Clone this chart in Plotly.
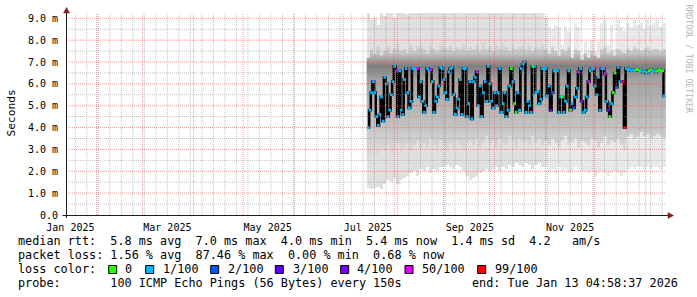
import plotly.graph_objects as go
from datetime import datetime, timedelta

# ---------------- data ----------------
first_day = datetime(2025, 7, 16, 6, 0)          # first daily median point
x_range = ["2025-01-13 08:00", "2026-01-13 08:00"]
y_max_ms = 9.242

# daily median rtt (ms)
median_ms = [
    4.0, 4.8, 5.6, 6.1, 5.6, 4.5, 4.1, 4.6, 5.4, 4.3,
    6.3, 6.0, 4.5, 4.8, 5.5, 6.1, 6.8, 6.6, 4.5, 6.6,
    4.8, 4.6, 6.2, 6.7, 5.6, 4.9, 5.2, 6.7, 6.7, 6.7,
    6.7, 5.4, 6.1, 5.2, 4.7, 5.0, 6.7, 6.6, 6.65, 6.1,
    4.7, 5.2, 5.4, 5.9, 6.75, 6.7, 6.2, 5.6, 5.3, 6.55,
    6.7, 6.75, 5.5, 4.6, 4.9, 5.3, 6.2, 4.6, 6.7, 6.7,
    4.5, 5.1, 6.1, 4.4, 6.1, 6.3, 6.55, 5.0, 5.9, 4.5,
    5.6, 6.1, 5.2, 6.8, 6.0, 5.2, 4.9, 5.6, 5.0, 5.6,
    6.7, 4.7, 5.1, 5.6, 4.5, 4.8, 5.9, 6.7, 6.1, 5.1,
    4.7, 5.6, 4.8, 6.7, 6.9, 7.0, 4.7, 5.2, 5.0, 4.7,
    6.8, 6.8, 5.6, 5.65, 5.1, 5.3, 6.7, 6.7, 6.7, 5.45,
    5.9, 4.8, 5.6, 6.6, 6.6, 6.6, 4.7, 5.4, 5.4, 4.7,
    5.2, 5.9, 6.6, 4.8, 5.1, 4.9, 5.4, 5.8, 6.55, 6.7,
    5.2, 4.7, 4.8, 5.4, 6.1, 6.6, 6.7, 6.7, 5.9, 5.5,
    6.3, 4.8, 6.7, 6.7, 6.45, 5.2, 4.8, 4.5, 5.1, 5.6,
    6.5, 5.85, 6.75, 6.1, 6.1, 6.1, 4.0, 6.7, 6.65, 6.65,
    6.6, 6.65, 6.6, 6.65, 6.65, 6.6, 6.6, 6.55, 6.6, 6.5,
    6.55, 6.6, 6.65, 6.6, 6.6, 6.55, 6.6, 6.65, 6.6, 6.6,
    5.45,
]

# daily loss bucket (index into loss_labels)
loss_bucket = [
    1, 1, 1, 1, 1, 1, 1, 1, 1, 1,
    1, 1, 1, 1, 1, 1, 1, 5, 1, 1,
    1, 1, 1, 1, 1, 1, 1, 1, 1, 1,
    5, 1, 1, 1, 1, 1, 1, 1, 5, 1,
    1, 1, 1, 1, 1, 1, 1, 1, 1, 1,
    1, 1, 1, 1, 1, 1, 1, 1, 1, 1,
    1, 1, 1, 1, 1, 1, 5, 1, 1, 1,
    1, 1, 1, 1, 1, 1, 1, 1, 1, 1,
    1, 1, 1, 1, 1, 1, 1, 0, 1, 0,
    0, 1, 1, 1, 1, 1, 1, 1, 1, 1,
    0, 1, 1, 1, 1, 1, 1, 1, 1, 1,
    1, 3, 2, 1, 1, 1, 1, 1, 0, 1,
    1, 1, 1, 0, 1, 2, 1, 1, 5, 1,
    4, 1, 1, 1, 5, 1, 1, 1, 1, 1,
    1, 1, 1, 1, 5, 1, 3, 0, 1, 0,
    0, 2, 1, 1, 2, 6, 6, 1, 1, 1,
    1, 1, 1, 0, 0, 0, 1, 1, 1, 1,
    1, 0, 0, 1, 1, 1, 0, 0, 0, 0,
    1,
]

# smoke, one value per two days (ms)
smoke_bot = [
    1.25, 1.2, 1.25, 1.3, 1.2, 1.4,
    1.6, 1.5, 1.7, 1.4, 1.6, 1.7, 1.8,
    1.9, 2.0, 1.8, 2.1, 2.0, 2.2, 1.9, 2.1, 2.0, 2.2,
    2.2, 2.3, 2.2, 2.1, 2.3, 2.2, 2.0, 1.8, 1.6, 1.7, 1.8, 1.9, 2.0, 2.1, 2.0,
    2.1, 2.2, 2.0, 2.2, 2.1, 2.3, 2.2, 2.4, 2.3, 2.2, 2.4, 2.3, 2.1, 2.3, 2.4, 2.2,
    2.2, 2.0, 2.1, 1.9, 2.2, 2.0, 2.1, 1.9, 2.0, 2.2, 2.1, 2.0,
    2.0, 1.9, 2.0, 1.8, 1.9, 2.0, 1.9, 1.8, 1.9, 2.0, 1.9, 1.8, 1.9,
    2.1, 2.2, 2.1, 2.2, 2.2, 2.1, 2.2, 2.1, 2.2, 2.2, 2.1, 2.2,
]
smoke_top = [
    9.3, 8.9, 9.0, 8.7, 9.4, 9.1, 9.4, 9.4, 9.0, 9.4,
    9.4, 9.4, 9.2, 9.4, 9.4, 9.4, 9.4, 9.4, 9.4, 9.4,
    9.4, 9.4, 9.4, 9.3, 9.4, 9.4, 9.4, 9.4, 9.4, 9.4,
    9.4, 9.4, 9.4, 9.4, 9.4, 9.4, 9.4, 9.4, 9.4, 9.4,
    9.4, 9.4, 9.4, 9.4, 9.4, 9.4, 9.4, 9.4, 9.4, 9.4,
    9.4, 9.4, 9.4, 9.4,
    9.0, 8.6, 8.5, 8.7, 8.6, 7.8, 8.6, 8.4, 7.4, 8.8, 8.6, 7.3,
    7.9, 7.6, 8.0, 7.5, 7.9,
    8.8, 8.9, 7.8, 8.7, 7.6, 8.9, 8.6, 8.4,
    8.8, 8.6, 8.9, 8.7, 8.8, 8.5, 8.9, 8.7, 8.8, 8.9, 8.6, 8.8,
]
# edges of the darker inner smoke (ms), one value per two days
mid_lo = [
    2.6, 2.8, 3.0, 2.7, 3.1, 2.9, 3.2, 2.8, 3.0, 3.3, 2.9,
    3.1, 3.3, 2.9, 3.2, 3.4, 3.0, 3.3, 3.1, 3.5, 3.2, 3.0, 3.4, 3.2, 2.9, 3.3, 3.1, 3.4, 3.2, 3.0, 3.3,
    3.4, 3.2, 3.5, 3.1, 3.3, 3.6, 3.2, 3.4, 3.1, 3.5, 3.3, 3.2, 3.6, 3.4, 3.1, 3.5, 3.3, 3.4, 3.2, 3.6, 3.3, 3.5, 3.2,
    3.4, 3.2, 3.5, 3.3, 3.1, 3.4, 3.6, 3.2, 3.3, 3.5, 3.1, 3.4, 3.3, 3.2, 3.5, 3.4, 3.1, 3.3, 3.6, 3.2, 3.4, 3.3, 3.5, 3.2, 3.0,
    3.6, 3.7, 3.5, 3.6, 3.8, 3.6, 3.7, 3.5, 3.6, 3.7, 3.6, 3.5,
]
mid_hi = [
    7.2, 7.6, 7.4, 7.8, 7.3, 7.5, 7.7, 7.4, 7.6, 7.9, 7.5,
    7.6, 7.4, 7.8, 7.5, 7.7, 7.9, 7.6, 7.4, 7.8, 7.6, 7.5, 7.9, 7.7, 7.6, 7.8, 7.5, 7.7, 7.6, 7.9, 7.5,
    7.7, 7.6, 7.8, 7.5, 7.9, 7.6, 7.7, 7.5, 7.8, 7.6, 7.9, 7.7, 7.5, 7.8, 7.6, 7.7, 7.9, 7.6, 7.8, 7.5, 7.7, 7.6, 7.8,
    7.6, 7.4, 7.7, 7.5, 7.3, 7.6, 7.5, 7.7, 7.2, 7.6, 7.5, 7.1, 7.4, 7.2, 7.5, 7.3, 7.2, 7.6, 7.7, 7.4, 7.5, 7.3, 7.6, 7.5, 7.4,
    7.6, 7.5, 7.7, 7.6, 7.5, 7.6, 7.7, 7.5, 7.6, 7.6, 7.5, 7.6,
]

loss_labels = ["0", "1/100", "2/100", "3/100", "4/100", "50/100", "99/100"]
loss_colors = ["#26ff00", "#00b8ff", "#0059ff", "#5e00ff", "#7e00ff", "#dd00ff", "#ff0000"]

label_dates = ["2025-01-16", "2025-03-16", "2025-05-16", "2025-07-16", "2025-09-16", "2025-11-16"]
label_texts = ["Jan 2025", "Mar 2025", "May 2025", "Jul 2025", "Sep 2025", "Nov 2025"]
y_tick_vals = [0, 1, 2, 3, 4, 5, 6, 7, 8, 9]
y_tick_texts = ["0.0", "1.0 m", "2.0 m", "3.0 m", "4.0 m", "5.0 m", "6.0 m", "7.0 m", "8.0 m", "9.0 m"]

line_rtt = "median rtt:  5.8 ms avg  7.0 ms max  4.0 ms min  5.4 ms now  1.4 ms sd  4.2   am/s"
line_loss = "packet loss: 1.56 % avg  87.46 % max  0.00 % min  0.68 % now"
line_color = "loss color:"
line_probe = "probe:       100 ICMP Echo Pings (56 Bytes) every 150s"
line_end = "end: Tue Jan 13 04:58:37 2026"

assert len(median_ms) == len(loss_bucket) == 181
for arr in (smoke_bot, smoke_top, mid_lo, mid_hi):
    assert len(arr) == 91, len(arr)

# ---------------- style ----------------
PL, PT, PW, PH = 66, 13, 600, 202
W, H = 697, 297
MONO = "DejaVu Sans Mono"
SMOKE_GRAD = dict(start=2.4, stop=8.2, colorscale=[
    [0.000, "#dedede"], [0.172, "#d2d2d2"], [0.310, "#c0c0c0"], [0.483, "#b3b3b3"],
    [0.655, "#a2a2a2"], [0.759, "#7e7e7e"], [0.810, "#a0a0a0"], [0.862, "#c6c6c6"],
    [0.931, "#d9d9d9"], [1.000, "#e0e0e0"]])


def px(x):
    return (x - PL) / PW


def py(y):
    return (PT + PH - y) / PH


day_ms = 86400000
days = [first_day + timedelta(days=i) for i in range(len(median_ms))]
sdays = [first_day + timedelta(days=2 * k) for k in range(len(smoke_top))]

fig = go.Figure()

# outer (light) smoke
light_cols = ["#e0e0e0" if k < 54 else "#e9e9e9" for k in range(len(smoke_top))]
fig.add_trace(go.Bar(
    x=sdays, y=[h - l for l, h in zip(smoke_bot, smoke_top)], base=smoke_bot,
    width=2 * day_ms, marker=dict(color=light_cols, line=dict(width=0)),
    hoverinfo="skip", showlegend=False))

# inner smoke: stepped outline filled with a vertical grey gradient
ox, oy = [], []
for d, h in zip(sdays, mid_hi):
    ox += [d - timedelta(days=1), d + timedelta(days=1)]
    oy += [h, h]
for d, l in zip(reversed(sdays), reversed(mid_lo)):
    ox += [d + timedelta(days=1), d - timedelta(days=1)]
    oy += [l, l]
fig.add_trace(go.Scatter(
    x=ox, y=oy, mode="lines", fill="toself", line=dict(width=0, color="rgba(0,0,0,0)"),
    fillgradient=dict(type="vertical", **SMOKE_GRAD),
    hoverinfo="skip", showlegend=False))

fig.add_trace(go.Scatter(
    x=days, y=median_ms, mode="lines",
    line=dict(color="#000000", width=2.6, shape="hvh"),
    hoverinfo="skip", showlegend=False))
fig.add_trace(go.Scatter(
    x=days, y=median_ms, mode="markers",
    marker=dict(symbol="square", size=2.8, color=[loss_colors[b] for b in loss_bucket], line=dict(width=0)),
    hoverinfo="skip", showlegend=False))

# ---------------- grid (drawn on top like rrdtool) ----------------
shapes = []
GRID = "rgba(143,143,143,0.55)"
MGRID = "rgba(222,79,79,0.55)"
d = datetime(2025, 1, 19)
while d < datetime(2026, 1, 13):
    shapes.append(dict(type="line", xref="x", yref="paper", x0=d, x1=d, y0=0, y1=1,
                       line=dict(color=GRID, width=1, dash="1px,1px"), layer="above"))
    d += timedelta(days=7)
for m in range(2, 14):
    yy, mm = (2025, m) if m <= 12 else (2026, m - 12)
    d = datetime(yy, mm, 1)
    shapes.append(dict(type="line", xref="x", yref="paper", x0=d, x1=d, y0=0, y1=1,
                       line=dict(color=MGRID, width=1, dash="1px,1px"), layer="above"))
for v in range(1, 19):
    val = v * 0.5
    col = MGRID if v % 2 == 0 else GRID
    shapes.append(dict(type="line", xref="paper", yref="y", x0=0, x1=1, y0=val, y1=val,
                       line=dict(color=col, width=1, dash="1px,1px"), layer="above"))

AX = "#1f1f1f"
ARROW = "#801f1f"
shapes.append(dict(type="line", xref="paper", yref="paper", x0=px(66.5), x1=px(66.5), y0=py(218), y1=py(12.5),
                   line=dict(color=AX, width=1), layer="above"))
shapes.append(dict(type="line", xref="paper", yref="paper", x0=px(62.5), x1=px(669), y0=py(215.5), y1=py(215.5),
                   line=dict(color=AX, width=1), layer="above"))
shapes.append(dict(type="path", xref="paper", yref="paper",
                   path=f"M {px(63.5)},{py(13)} L {px(69.5)},{py(13)} L {px(66.5)},{py(7.5)} Z",
                   fillcolor=ARROW, line=dict(color=ARROW, width=0.5), layer="above"))
shapes.append(dict(type="path", xref="paper", yref="paper",
                   path=f"M {px(668)},{py(212.5)} L {px(668)},{py(218.5)} L {px(673.5)},{py(215.5)} Z",
                   fillcolor=ARROW, line=dict(color=ARROW, width=0.5), layer="above"))

# legend colour boxes
box_x = [108.7, 145.7, 210.7, 275.3, 340.7, 405.0, 477.7]
text_x = [123.3, 161.0, 225.7, 290.7, 355.0, 420.0, 492.7]
for bx, c in zip(box_x, loss_colors):
    shapes.append(dict(type="rect", xref="paper", yref="paper",
                       x0=px(bx), x1=px(bx + 8), y0=py(273.5), y1=py(265.5),
                       fillcolor=c, line=dict(color="#000000", width=1), layer="above"))

NB = "\u00a0"


def nb(s):
    return s.replace(" ", NB)


ann = []
TXT = 11.8


def text(x, y, s, anchor="left", size=TXT, color="#000000", angle=0, family=MONO):
    ann.append(dict(xref="paper", yref="paper", x=px(x), y=py(y), text=nb(s), showarrow=False,
                    xanchor=anchor, yanchor="middle", textangle=angle,
                    font=dict(family=family, size=size, color=color)))


text(16, 241, line_rtt)
text(16, 255, line_loss)
text(16, 269, line_color)
for tx, lab in zip(text_x, loss_labels):
    text(tx, 269, lab)
text(16, 283, line_probe)
text(680, 283, line_end, anchor="right")
text(11, 113.5, "Seconds", anchor="center", size=11.2, angle=-90)
text(688.5, 59, "RRDTOOL / TOBI OETIKER", anchor="center", size=8.2, color="#b8b8b8", angle=90)

fig.update_layout(
    width=W, height=H,
    margin=dict(l=PL, r=W - PL - PW, t=PT, b=H - PT - PH, pad=0),
    paper_bgcolor="#ffffff", plot_bgcolor="#ffffff",
    showlegend=False, barmode="overlay", bargap=0,
    xaxis=dict(type="date", range=x_range, showgrid=False, zeroline=False, showline=False,
               tickmode="array", tickvals=label_dates, ticktext=label_texts,
               ticks="outside", ticklen=3, tickcolor="rgba(0,0,0,0)",
               tickfont=dict(family=MONO, size=10, color="#000000")),
    yaxis=dict(range=[0, y_max_ms], showgrid=False, zeroline=False, showline=False,
               tickmode="array", tickvals=y_tick_vals, ticktext=y_tick_texts,
               ticks="outside", ticklen=5, tickcolor="rgba(0,0,0,0)",
               tickfont=dict(family=MONO, size=10, color="#000000")),
    shapes=shapes, annotations=ann,
)

fig.write_html("out.html")
